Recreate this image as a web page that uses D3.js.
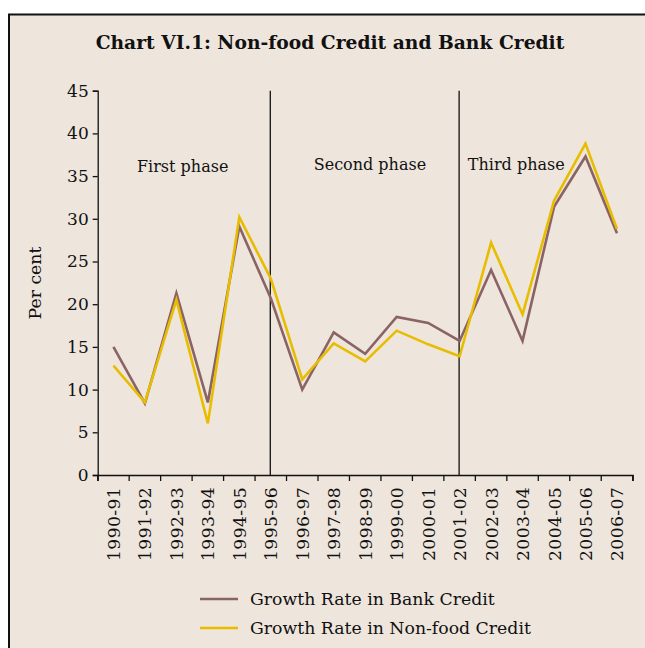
<!DOCTYPE html>
<html><head><meta charset="utf-8">
<script src="https://cdn.jsdelivr.net/npm/d3@7"></script>
<style>
html,body{margin:0;padding:0;background:#fff;}
svg{display:block;}
text{font-family:"DejaVu Serif",serif;fill:#111;}
</style></head>
<body>
<script>
const categories = ["1990-91","1991-92","1992-93","1993-94","1994-95","1995-96","1996-97","1997-98","1998-99","1999-00","2000-01","2001-02","2002-03","2003-04","2004-05","2005-06","2006-07"];
const bankCredit = [15.0, 8.4, 21.3, 8.5, 29.1, 20.7, 10.0, 16.7, 14.2, 18.5, 17.8, 15.7, 24.0, 15.7, 31.4, 37.3, 28.3];
const nonFoodCredit = [12.8, 8.5, 20.5, 6.05, 30.2, 23.0, 11.2, 15.4, 13.3, 16.9, 15.3, 13.9, 27.2, 18.8, 32.1, 38.8, 28.8];
const yTicks = [0,5,10,15,20,25,30,35,40,45];
const phaseLines = ["1995-96","2001-02"];
const phaseLabels = ["First phase","Second phase","Third phase"];
const phaseLabelPos = [2.2, 8.15, 12.8]; // category index where each label is centred
const seriesNames = ["Growth Rate in Bank Credit","Growth Rate in Non-food Credit"];
const colors = ["#8A6464","#E8BD00"];

const W=645,H=648;
const svg=d3.select("body").append("svg").attr("width",W).attr("height",H);
svg.append("rect").attr("x",9).attr("y",14).attr("width",636).attr("height",H-14).attr("fill","#EEE5DD");
svg.append("line").attr("x1",8).attr("x2",645).attr("y1",14.5).attr("y2",14.5).attr("stroke","#111").attr("stroke-width",2);
svg.append("line").attr("x1",9).attr("x2",9).attr("y1",14).attr("y2",H).attr("stroke","#111").attr("stroke-width",2);

svg.append("text").attr("x",330).attr("y",49).attr("text-anchor","middle")
  .style("font-size","18.7px").style("font-weight","bold").text("Chart VI.1: Non-food Credit and Bank Credit");

const x=d3.scaleBand().domain(categories).range([97.7,632.7]);
const xi=d3.scaleLinear().domain([0,1]).range([x(categories[0])+x.bandwidth()/2, x(categories[1])+x.bandwidth()/2]);
const y=d3.scaleLinear().domain([0,45]).range([475,90.7]);
const g=svg.append("g");

const ya=g.append("g").attr("transform","translate(97.7,0)")
  .call(d3.axisLeft(y).tickValues(yTicks).tickSize(5).tickPadding(4).tickFormat(d3.format("d")));
ya.selectAll("text").style("font-size","17px").style("font-family","DejaVu Serif");
ya.selectAll("path,line").attr("stroke","#111").attr("stroke-width",1.3);

const xa=g.append("g").attr("transform","translate(0,475)")
  .call(d3.axisBottom(x).tickSizeOuter(6).tickSizeInner(0).tickFormat(""));
xa.select("path").attr("stroke","#111").attr("stroke-width",1.3);
xa.selectAll(".tick").remove();
const edges=categories.map(c=>x(c)).concat([x(categories[categories.length-1])+x.bandwidth()]);
xa.selectAll("line.edge").data(edges).enter().append("line").attr("class","edge")
  .attr("x1",d=>d).attr("x2",d=>d).attr("y1",0).attr("y2",6).attr("stroke","#111").attr("stroke-width",1.3);
xa.selectAll("text.lab").data(categories).enter().append("text").attr("class","lab")
  .attr("transform",d=>`translate(${x(d)+x.bandwidth()/2+6.5},12) rotate(-90)`)
  .attr("text-anchor","end").style("font-size","17.3px").style("letter-spacing","0.3px").text(d=>d);

g.selectAll("line.phase").data(phaseLines).enter().append("line")
  .attr("x1",d=>x(d)+x.bandwidth()/2-0.5).attr("x2",d=>x(d)+x.bandwidth()/2-0.5)
  .attr("y1",y(45)).attr("y2",y(0)).attr("stroke","#111").attr("stroke-width",1.3);
g.selectAll("text.ph").data(phaseLabels).enter().append("text")
  .attr("x",(d,i)=>xi(phaseLabelPos[i])).attr("y",(d,i)=>i===0?172:170).attr("text-anchor","middle")
  .style("font-size","16px").text(d=>d);

svg.append("text").attr("transform","translate(41,283) rotate(-90)").attr("text-anchor","middle")
  .style("font-size","17.3px").text("Per cent");

const line=d3.line().x((d,i)=>x(categories[i])+x.bandwidth()/2).y(d=>y(d));
[bankCredit,nonFoodCredit].forEach((s,k)=>{
  g.append("path").datum(s).attr("d",line).attr("fill","none").attr("stroke",colors[k]).attr("stroke-width",2.6).attr("stroke-linejoin","miter");
});
const leg=svg.append("g");
seriesNames.forEach((n,k)=>{
  const yy=599+k*29;
  leg.append("line").attr("x1",200).attr("x2",238).attr("y1",yy).attr("y2",yy).attr("stroke",colors[k]).attr("stroke-width",2.6);
  leg.append("text").attr("x",250).attr("y",yy+6).style("font-size","17.3px").text(n);
});
</script>
</body></html>
